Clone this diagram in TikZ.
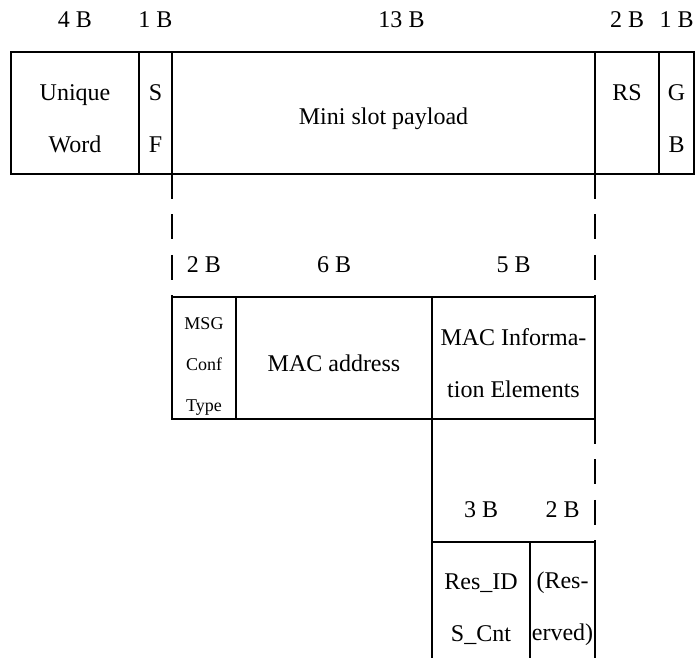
\documentclass[tikz,border=0pt]{standalone}
\usepackage{fontspec}
\setmainfont{Liberation Serif}
\usetikzlibrary{positioning,calc}

\newcommand{\fieldstrut}{\rule{0pt}{14pt}}

\begin{document}
\begin{tikzpicture}[x=0.5pt,y=0.5pt,line width=0.9pt,
  cell/.style={inner sep=0pt,outer sep=0pt,align=center,minimum height=61pt,font=\fontsize{12}{26}\selectfont},
  field/.style={cell,draw},
  msgfont/.style={font=\fontsize{9}{20.5}\selectfont},
  bytes/.style={inner sep=0pt,outer sep=0pt,font=\fontsize{12}{14}\selectfont},
  gapline/.style={dash pattern=on 12.5pt off 7.75pt}]
  \useasboundingbox (0,0) rectangle (696,658);
  % --- mini slot: top row ---
  \node[field,anchor=north west,minimum width=64pt] (uw) at (11,606) {\fieldstrut Unique\\Word};
  \node[field,minimum width=16.5pt,right=0pt of uw]  (sf)  {\fieldstrut S\\F};
  \node[field,minimum width=211.5pt,right=0pt of sf] (pay) {\fieldstrut Mini slot payload};
  \node[field,minimum width=32pt,right=0pt of pay]   (rs)  {\fieldstrut RS\\~};
  \node[field,minimum width=17.5pt,right=0pt of rs]  (gb)  {\fieldstrut G\\B};
  \node[bytes,above=12pt of uw]             (szuw)  {4 B};
  \node[bytes,above=12pt of sf]             (szsf)  {1 B};
  \node[bytes,above=12pt of pay,xshift=9pt] (szpay) {13 B};
  \node[bytes,above=12pt of rs]             (szrs)  {2 B};
  \node[bytes,above=12pt of gb]             (szgb)  {1 B};
  % --- payload: middle row ---
  \node[field,msgfont,anchor=north west,minimum width=32pt] (msg) at ($(pay.south west)+(0,-123)$) {\fieldstrut MSG\\Conf\\Type};
  \node[field,minimum width=98pt,right=0pt of msg]   (mac)   {\fieldstrut MAC address};
  \node[field,minimum width=81.5pt,right=0pt of mac] (macie) {\fieldstrut MAC Informa-\\tion Elements};
  \node[bytes,above=12pt of msg]   (szmsg) {2 B};
  \node[bytes,above=12pt of mac]   (szmac) {6 B};
  \node[bytes,above=12pt of macie] (szie)  {5 B};
  \draw[gapline] (pay.south west) -- (msg.north west);
  \draw[gapline] (pay.south east) -- (macie.north east);
  % --- information elements: bottom row (open at the bottom) ---
  \node[cell,anchor=north west,minimum width=49pt] (resid) at ($(macie.south west)+(0,-123)$) {\fieldstrut Res\_ID\\S\_Cnt};
  \node[cell,minimum width=32.5pt,right=0pt of resid] (ressv) {\fieldstrut (Res-\\erved)};
  \node[bytes,above=12pt of resid] (szres) {3 B};
  \node[bytes,above=12pt of ressv] (szsv)  {2 B};
  \draw (resid.south west) -- (resid.north west) -- (ressv.north east) -- (ressv.south east);
  \draw (resid.north east) -- (resid.south east);
  \draw (macie.south west) -- (resid.north west);
  \draw[gapline] (macie.south east) -- (ressv.north east);
\end{tikzpicture}
\end{document}
